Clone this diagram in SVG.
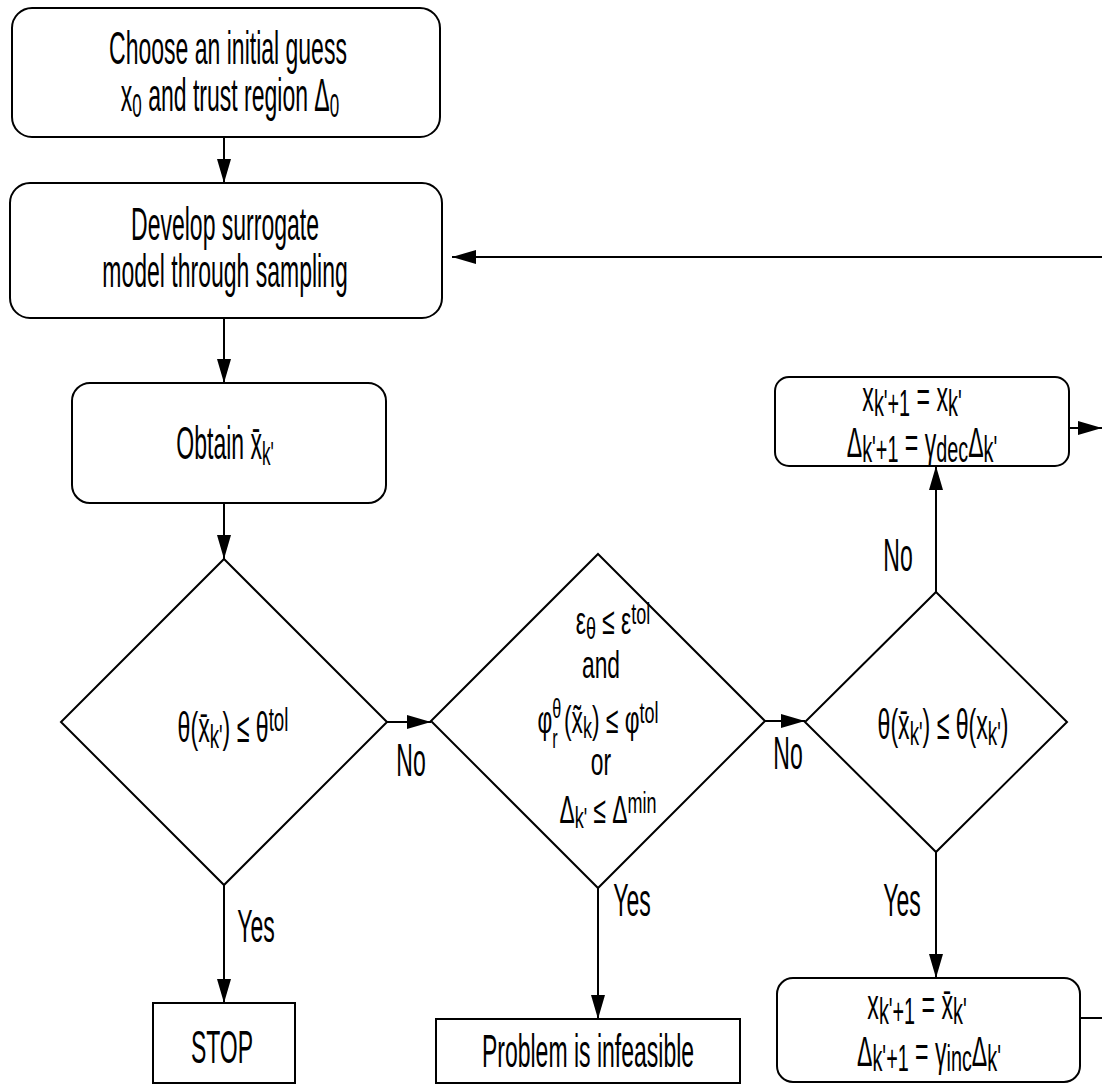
<svg xmlns="http://www.w3.org/2000/svg" width="1102" height="1087" viewBox="0 0 1102 1087">
<defs>
<style>
.b{fill:#fff;stroke:#000;stroke-width:2}
.c{fill:none;stroke:#000;stroke-width:2;marker-end:url(#ah)}
.p{fill:none;stroke:#000;stroke-width:2}
.t{font-family:"Liberation Sans",Arial,sans-serif;font-size:46px;fill:#000;text-anchor:middle}
.m{font-size:42px}
.n{font-size:38px}
.s{font-size:34px}
.u{font-size:30px}
.v{font-size:27px}
.q{font-size:36px}
</style>
<marker id="ah" markerUnits="userSpaceOnUse" markerWidth="26" markerHeight="14" refX="24" refY="7" orient="auto">
<path d="M0,0 L24,7 L0,14 z" fill="#000"/>
</marker>
</defs>
<rect width="1102" height="1087" fill="#fff"/>

<g id="connectors">
<path class="c" d="M224,137 V183"/>
<path class="c" d="M224,318 V383"/>
<path class="c" d="M224,503 V559"/>
<path class="c" d="M1102,257 H452"/>
<path class="c" d="M387,722 H431"/>
<path class="c" d="M765,721 H805"/>
<path class="c" d="M936,592 V466"/>
<path class="c" d="M1069,428 H1102"/>
<path class="c" d="M224,885 V1003"/>
<path class="c" d="M598,888 V1019"/>
<path class="c" d="M936,852 V978"/>
<path class="p" d="M1080,1018 H1102"/>
<text class="t" transform="translate(411,776) scale(0.5,1)">No</text>
<text class="t" transform="translate(788,769) scale(0.5,1)">No</text>
<text class="t" transform="translate(898,571) scale(0.5,1)">No</text>
<text class="t" transform="translate(256,942) scale(0.5,1)">Yes</text>
<text class="t" transform="translate(632,916) scale(0.5,1)">Yes</text>
<text class="t" transform="translate(902,916) scale(0.5,1)">Yes</text>
</g>

<g id="start">
<rect class="b" x="12" y="8" width="428" height="129" rx="20"/>
<text class="t" transform="translate(228,64) scale(0.5,1)">Choose an initial guess</text>
<text class="t" transform="translate(230,111) scale(0.5,1)">x<tspan class="s" baseline-shift="-6">0</tspan> and trust region Δ<tspan class="s" baseline-shift="-6">0</tspan></text>
</g>

<g id="surrogate">
<rect class="b" x="10" y="183" width="432" height="135" rx="20"/>
<text class="t" transform="translate(225,240) scale(0.5,1)">Develop surrogate</text>
<text class="t" transform="translate(225,287) scale(0.5,1)">model through sampling</text>
</g>

<g id="obtain">
<rect class="b" x="72" y="383" width="314" height="120" rx="18"/>
<text class="t" transform="translate(225,459) scale(0.5,1)">Obtain x̄<tspan class="s" baseline-shift="-6">k'</tspan></text>
</g>

<g id="decision1">
<polygon class="b" points="224,559 387,722 224,885 61,722"/>
<text class="t m" transform="translate(233,742) scale(0.55,1)">θ(x̄<tspan class="s" baseline-shift="-6">k'</tspan>) ≤ θ<tspan class="s" baseline-shift="11">tol</tspan></text>
</g>

<g id="decision2">
<polygon class="b" points="598,554 765,721 598,888 431,721"/>
<text class="t n" transform="translate(613,634) scale(0.6,1)">ε<tspan class="u" baseline-shift="-5">θ</tspan> ≤ ε<tspan class="u" baseline-shift="10">tol</tspan></text>
<text class="t n" transform="translate(601,678) scale(0.6,1)">and</text>
<text class="t n" transform="translate(598,733) scale(0.6,1)">φ<tspan class="v" baseline-shift="15">θ</tspan><tspan class="v" baseline-shift="-15" dx="-15">r</tspan>  (x̃<tspan class="u" baseline-shift="-5">k</tspan>) ≤ φ<tspan class="u" baseline-shift="10">tol</tspan></text>
<text class="t n" transform="translate(601,775) scale(0.6,1)">or</text>
<text class="t n" transform="translate(608,823) scale(0.6,1)">Δ<tspan class="u" baseline-shift="-5">k'</tspan> ≤ Δ<tspan class="u" baseline-shift="10">min</tspan></text>
</g>

<g id="decision3">
<polygon class="b" points="936,592 1067,722 936,852 805,722"/>
<text class="t m" transform="translate(943,739) scale(0.55,1)">θ(x̄<tspan class="s" baseline-shift="-6">k'</tspan>) ≤ θ(x<tspan class="s" baseline-shift="-6">k'</tspan>)</text>
</g>

<g id="decrease">
<rect class="b" x="775" y="377" width="294" height="89" rx="14"/>
<text class="t m" transform="translate(912,411) scale(0.55,1)">x<tspan class="q" baseline-shift="-5">k'+1</tspan> = x<tspan class="q" baseline-shift="-5">k'</tspan></text>
<text class="t m" transform="translate(922,457) scale(0.55,1)">Δ<tspan class="q" baseline-shift="-5">k'+1</tspan> = γ<tspan class="q" baseline-shift="-5">dec</tspan>Δ<tspan class="q" baseline-shift="-5">k'</tspan></text>
</g>

<g id="increase">
<rect class="b" x="777" y="978" width="303" height="104" rx="16"/>
<text class="t m" transform="translate(917,1019) scale(0.55,1)">x<tspan class="q" baseline-shift="-5">k'+1</tspan> = x̄<tspan class="q" baseline-shift="-5">k'</tspan></text>
<text class="t m" transform="translate(929,1066) scale(0.55,1)">Δ<tspan class="q" baseline-shift="-5">k'+1</tspan> = γ<tspan class="q" baseline-shift="-5">inc</tspan>Δ<tspan class="q" baseline-shift="-5">k'</tspan></text>
</g>

<g id="stop">
<rect class="b" x="153" y="1003" width="142" height="80"/>
<text class="t" transform="translate(222,1063) scale(0.5,1)">STOP</text>
</g>

<g id="infeasible">
<rect class="b" x="436" y="1019" width="304" height="64"/>
<text class="t" transform="translate(588,1067) scale(0.5,1)">Problem is infeasible</text>
</g>
</svg>
